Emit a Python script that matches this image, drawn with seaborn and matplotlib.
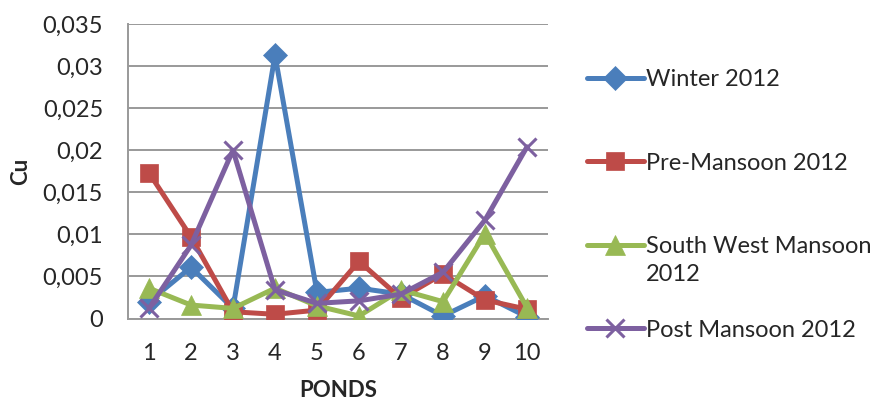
import matplotlib
matplotlib.use("Agg")
import matplotlib.pyplot as plt
import seaborn as sns
import pandas as pd
from matplotlib.ticker import FuncFormatter, MultipleLocator

ponds = [1, 2, 3, 4, 5, 6, 7, 8, 9, 10]
winter = [0.0020, 0.0061, 0.0012, 0.0313, 0.0031, 0.0036, 0.0029, 0.0003, 0.0027, 0.0002]
pre_mansoon = [0.0173, 0.0097, 0.0008, 0.0005, 0.0010, 0.0068, 0.0024, 0.0053, 0.0022, 0.0011]
sw_mansoon = [0.0036, 0.0016, 0.0012, 0.0036, 0.0015, 0.0003, 0.0034, 0.0020, 0.0101, 0.0013]
post_mansoon = [0.0012, 0.0087, 0.0200, 0.0034, 0.0018, 0.0021, 0.0029, 0.0055, 0.0117, 0.0204]

series_names = ["Winter 2012", "Pre-Mansoon 2012", "South West Mansoon", "Post Mansoon 2012"]
series_values = [winter, pre_mansoon, sw_mansoon, post_mansoon]
colors = ["#4A7EBB", "#BE4B48", "#98B954", "#7D60A0"]
markers = ["D", "s", "^", "x"]
msizes = [12, 13, 14, 13]

sns.set_style("white")
plt.rcParams["font.family"] = ["Lato", "DejaVu Sans"]
FS = 17

fig = plt.figure(figsize=(8.82, 4.03), dpi=100)
ax = fig.add_axes([128 / 882, 1 - 318.5 / 403, 420 / 882, 294.5 / 403])

for name, vals, c, m, ms in zip(series_names, series_values, colors, markers, msizes):
    df = pd.DataFrame({"Pond": ponds, "Cu": vals})
    sns.lineplot(data=df, x="Pond", y="Cu", ax=ax, color=c, linewidth=3.6,
                 marker=m, markersize=ms, markeredgecolor=c,
                 markeredgewidth=2.2 if m == "x" else 0.5,
                 label=name, zorder=3)

ax.set_xlim(0.5, 10.5)
ax.set_ylim(0, 0.035)
ax.yaxis.set_major_locator(MultipleLocator(0.005))
ax.set_xticks(ponds)
ax.set_xticklabels([str(p) for p in ponds])

def fmt(v, pos):
    s = f"{v:.3f}".rstrip("0").rstrip(".")
    if s == "":
        s = "0"
    return s.replace(".", ",")

ax.yaxis.set_major_formatter(FuncFormatter(fmt))
ax.grid(axis="y", color="#999999", linewidth=1.4)
ax.set_axisbelow(True)
for s in ["top", "right"]:
    ax.spines[s].set_visible(False)
for s in ["left", "bottom"]:
    ax.spines[s].set_color("#999999")
    ax.spines[s].set_linewidth(1.4)
ax.tick_params(axis="y", which="major", length=6, width=1.4, color="#999999", direction="out",
               labelsize=FS, pad=12)
ax.tick_params(axis="x", length=0, labelsize=FS, pad=18)

ax.set_xlabel("PONDS", fontsize=FS - 1, fontweight="bold", labelpad=11)
ax.set_ylabel("Cu", fontsize=FS - 1, fontweight="bold", labelpad=8)

handles, labels = ax.get_legend_handles_labels()
if ax.get_legend():
    ax.get_legend().remove()
leg = fig.legend(handles, labels, loc="upper left", bbox_to_anchor=(587 / 882, 1 - 69 / 403),
                 frameon=False, fontsize=FS, labelspacing=2.65, handlelength=2.4,
                 handletextpad=0.1, borderaxespad=0, borderpad=0)

fig.canvas.draw()
bb = leg.get_texts()[2].get_window_extent(fig.canvas.get_renderer())
inv = fig.transFigure.inverted()
x0, y0 = inv.transform((bb.x0, bb.y0))
fig.text(x0, y0 - 7 / 403, "2012", fontsize=FS, va="top", ha="left")

fig.savefig("out.png", dpi=100)
